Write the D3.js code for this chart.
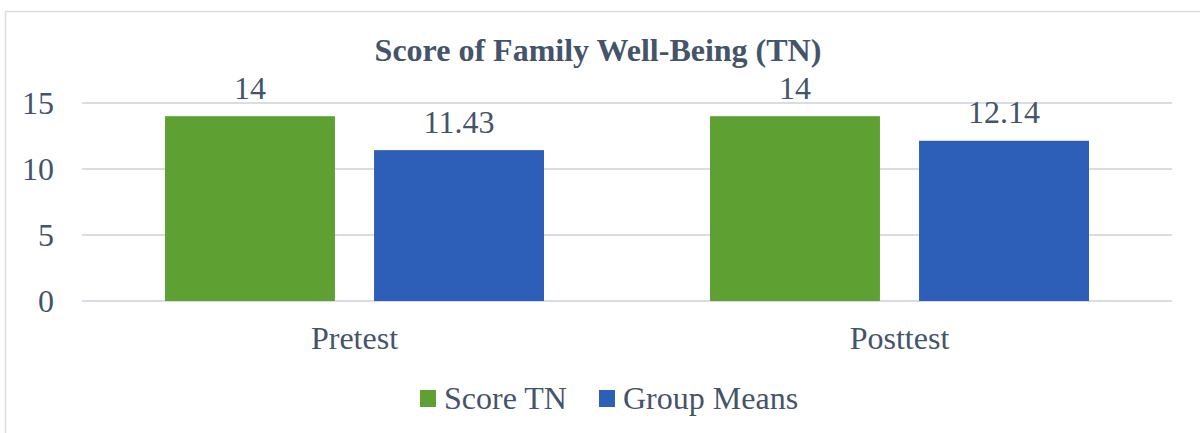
<!DOCTYPE html>
<html>
<head>
<meta charset="utf-8">
<script src="https://cdn.jsdelivr.net/npm/d3@7"></script>
<style>
  body { margin: 0; background: #fff; }
</style>
</head>
<body>
<div class="wrap-chart"></div>
<script>
var categories = ["Pretest", "Posttest"],
  seriesNames = ["Score TN", "Group Means"],
  seriesColors = ["#5FA033", "#2D5FB8"],
  scoreTN = [14, 14],
  groupMeans = [11.43, 12.14],
  valueLabels = [["14", "11.43"], ["14", "12.14"]],
  yTicks = [0, 5, 10, 15];

var width = 1200,
  height = 433,
  fontSize = 32,
  textColor = "#44546A",
  margin = {left: 82, right: 28, top: 103, bottom: 132};

var svg = d3.select(".wrap-chart")
  .append("svg")
  .attr("width", width)
  .attr("height", height)
  .attr("font-family", "Liberation Serif")
  .attr("fill", textColor);

// outer chart frame
svg.append("rect")
  .attr("x", 5.5).attr("y", 11.5)
  .attr("width", 1300).attr("height", 600)
  .attr("fill", "none")
  .attr("stroke", "#D9DEE5")
  .attr("stroke-width", 1.5);

var x0 = d3.scaleBand()
  .domain(categories)
  .range([margin.left, width - margin.right]);

var x1 = d3.scaleBand()
  .domain(seriesNames)
  .range([0, x0.bandwidth()])
  .paddingInner(0.187)
  .paddingOuter(0.397);

var y = d3.scaleLinear()
  .domain([0, 15])
  .range([height - margin.bottom, margin.top]);

// gridlines
svg.append("g")
  .selectAll("line")
  .data(yTicks)
  .enter()
  .append("line")
  .attr("x1", margin.left)
  .attr("x2", width - margin.right)
  .attr("y1", function (d) { return y(d); })
  .attr("y2", function (d) { return y(d); })
  .attr("stroke", "#D9DDE3")
  .attr("stroke-width", 2);

// y tick labels
svg.append("g")
  .selectAll("text")
  .data(yTicks)
  .enter()
  .append("text")
  .attr("x", 54)
  .attr("y", function (d) { return y(d) + 11; })
  .attr("text-anchor", "end")
  .attr("font-size", fontSize)
  .text(function (d) { return d; });

var rows = categories.map(function (c, i) {
  return {cat: c, values: [scoreTN[i], groupMeans[i]], labels: valueLabels[i]};
});

function barData(d) {
  return d.values.map(function (v, j) {
    return {key: seriesNames[j], value: v, label: d.labels[j], color: seriesColors[j]};
  });
}

var groups = svg.selectAll(".cat")
  .data(rows)
  .enter()
  .append("g")
  .attr("class", "cat")
  .attr("transform", function (d) { return "translate(" + x0(d.cat) + ",0)"; });

groups.selectAll("rect")
  .data(barData)
  .enter()
  .append("rect")
  .attr("x", function (d) { return x1(d.key); })
  .attr("width", x1.bandwidth())
  .attr("y", function (d) { return y(d.value); })
  .attr("height", function (d) { return y(0) - y(d.value); })
  .attr("fill", function (d) { return d.color; });

groups.selectAll(".val")
  .data(barData)
  .enter()
  .append("text")
  .attr("class", "val")
  .attr("x", function (d) { return x1(d.key) + x1.bandwidth() / 2; })
  .attr("y", function (d) { return y(d.value) - 17.5; })
  .attr("text-anchor", "middle")
  .attr("font-size", fontSize)
  .text(function (d) { return d.label; });

// category labels
svg.append("g")
  .selectAll("text")
  .data(categories)
  .enter()
  .append("text")
  .attr("x", function (d) { return x0(d) + x0.bandwidth() / 2; })
  .attr("y", 349)
  .attr("text-anchor", "middle")
  .attr("font-size", fontSize)
  .text(function (d) { return d; });

// title
svg.append("text")
  .attr("x", 598)
  .attr("y", 61)
  .attr("text-anchor", "middle")
  .attr("font-size", fontSize)
  .attr("font-weight", "bold")
  .text("Score of Family Well-Being (TN)");

// legend
var legendX = [420, 599];
var legend = svg.selectAll(".legend")
  .data(seriesNames)
  .enter()
  .append("g")
  .attr("class", "legend")
  .attr("transform", function (d, i) { return "translate(" + legendX[i] + ",390)"; });

legend.append("rect")
  .attr("width", 16).attr("height", 17)
  .attr("fill", function (d, i) { return seriesColors[i]; });

legend.append("text")
  .attr("x", 24)
  .attr("y", 19)
  .attr("font-size", fontSize)
  .text(function (d) { return d; });
</script>
</body>
</html>
